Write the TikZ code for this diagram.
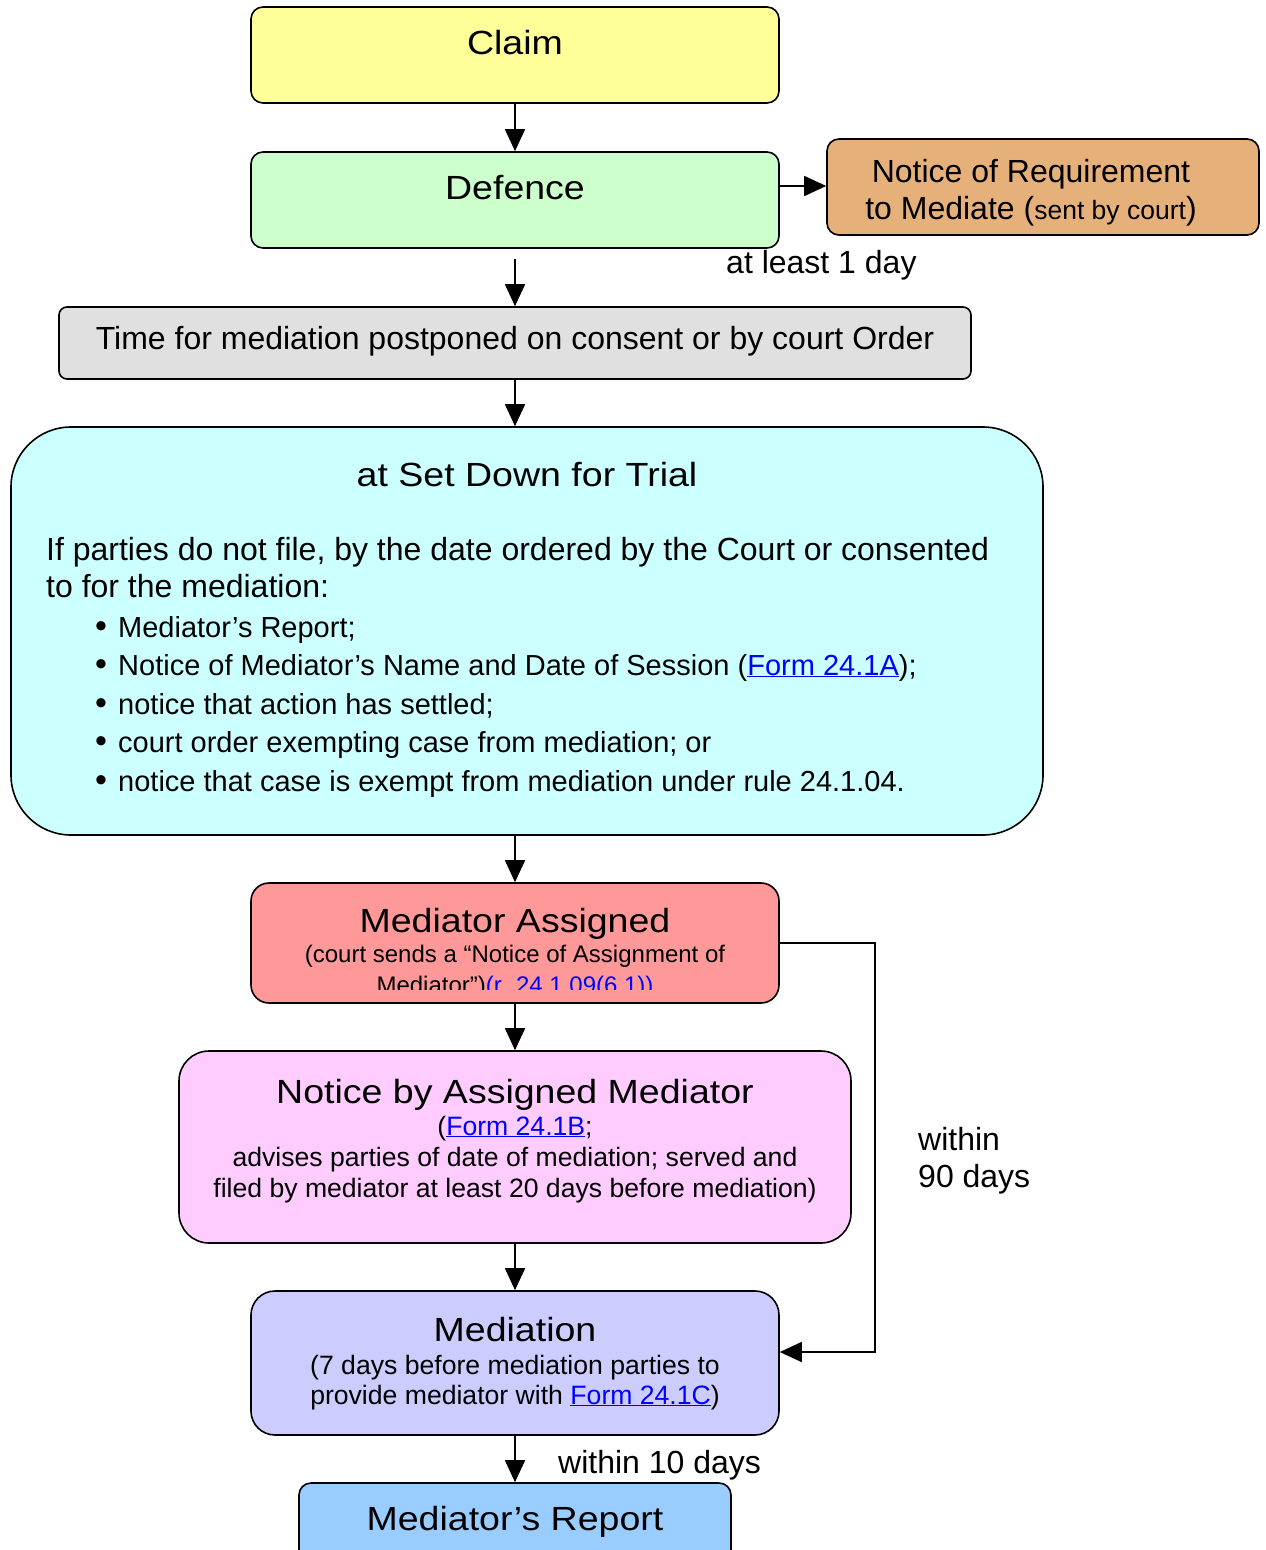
\documentclass[tikz,border=0pt]{standalone}
\usepackage{fontspec}
\setmainfont{Liberation Sans}
\newfontfamily\widefont[FakeStretch=1.12]{Liberation Sans}
\usetikzlibrary{arrows.meta}
\newcommand{\fsz}[1]{\fontsize{#1}{#1}\selectfont}
\definecolor{linkblue}{HTML}{0000FF}
\definecolor{cClaim}{HTML}{FFFF99}
\definecolor{cDef}{HTML}{CCFFCC}
\definecolor{cReq}{HTML}{E6B07B}
\definecolor{cTime}{HTML}{E0E0E0}
\definecolor{cSet}{HTML}{CCFFFF}
\definecolor{cAss}{HTML}{FF9999}
\definecolor{cNot}{HTML}{FFCCFF}
\definecolor{cMed}{HTML}{CCCCFF}
\definecolor{cRep}{HTML}{99CCFF}
\newcommand{\lnk}[1]{\textcolor{linkblue}{\underline{#1}}}
\begin{document}
\begin{tikzpicture}[x=1pt,y=-1pt,
  box/.style={draw=black, line width=1.6pt, inner sep=0pt, rounded corners=12pt},
  arr/.style={line width=1.6pt, -{Triangle[length=22pt,width=20pt]}},
  big/.style={font=\widefont\fsz{33.5}, anchor=base, inner sep=0pt},
  mid/.style={font=\fsz{32}, anchor=base, inner sep=0pt},
  body/.style={font=\fsz{32}, anchor=base, inner sep=0pt},
  bul/.style={font=\fsz{29}, anchor=base, inner sep=0pt},
  small/.style={font=\fsz{24}, anchor=base, inner sep=0pt},
  sub/.style={font=\fsz{26.6}, anchor=base, inner sep=0pt}]
\useasboundingbox (0,0) rectangle (1266,1550);
\fill[white] (0,0) rectangle (1266,1550);

% boxes
\node[box, fill=cClaim, minimum width=528pt, minimum height=96pt] (claim) at (515,55) {};
\node[box, fill=cDef, minimum width=528pt, minimum height=96pt] (defence) at (515,200) {};
\node[box, fill=cReq, minimum width=432pt, minimum height=96pt] (req) at (1043,187) {};
\node[box, fill=cTime, minimum width=912pt, minimum height=72pt, rounded corners=8pt] (time) at (515,343) {};
\node[box, fill=cSet, minimum width=1032pt, minimum height=408pt, rounded corners=60pt] (setdown) at (527,631) {};
\node[box, fill=cAss, minimum width=528pt, minimum height=120pt, rounded corners=18pt] (assigned) at (515,943) {};
\node[box, fill=cNot, minimum width=672pt, minimum height=192pt, rounded corners=30pt] (notice) at (515,1147) {};
\node[box, fill=cMed, minimum width=528pt, minimum height=144pt, rounded corners=24pt] (mediation) at (515,1363) {};
\node[box, fill=cRep, minimum width=432pt, minimum height=100pt, rounded corners=12pt] (report) at (515,1533) {};

% texts
\node[big] (tclaim) at (515,54) {Claim};
\node[big] (tdef) at (515,199) {Defence};
\node[mid] (treq1) at (1031,182) {Notice of Requirement};
\node[mid] (treq2) at (1031,219) {to Mediate ({\fsz{26.5}sent by court})};
\node[mid, anchor=base west] (tleast) at (726,273) {at least 1 day};
\node[mid] (ttime) at (515,349) {Time for mediation postponed on consent or by court Order};
\node[big] (tset) at (527,486) {at Set Down for Trial};
\node[body, anchor=base west] (p1) at (46,560) {If parties do not file, by the date ordered by the Court or consented};
\node[body, anchor=base west] (p2) at (46,597) {to for the mediation:};
\foreach \yy/\nm in {637/b1,675/b2,714/b3,752/b4,791/b5}
  \node[bul, font=\fsz{34}] (\nm) at (101,\yy) {\textbullet};
\node[bul, anchor=base west] (l1) at (118,637) {Mediator’s Report;};
\node[bul, anchor=base west] (l2) at (118,675) {Notice of Mediator’s Name and Date of Session (\lnk{Form 24.1A});};
\node[bul, anchor=base west] (l3) at (118,714) {notice that action has settled;};
\node[bul, anchor=base west] (l4) at (118,752) {court order exempting case from mediation; or};
\node[bul, anchor=base west] (l5) at (118,791) {notice that case is exempt from mediation under rule 24.1.04.};
\node[big] (tass) at (515,932) {Mediator Assigned};
\node[small] (tass2) at (515,962) {(court sends a “Notice of Assignment of};
\begin{scope}
\clip (252,970) rectangle (778,989);
\node[small] (tass3) at (515,993) {Mediator”)\textcolor{linkblue}{(r. 24.1.09(6.1))}};
\end{scope}
\node[big] (tnot) at (515,1103) {Notice by Assigned Mediator};
\node[sub] (tnot2) at (515,1135) {(\lnk{Form 24.1B};};
\node[sub] (tnot3) at (515,1166) {advises parties of date of mediation; served and};
\node[sub] (tnot4) at (515,1197) {filed by mediator at least 20 days before mediation)};
\node[big] (tmed) at (515,1341) {Mediation};
\node[sub] (tmed2) at (515,1374) {(7 days before mediation parties to};
\node[sub] (tmed3) at (515,1404) {provide mediator with \lnk{Form 24.1C})};
\node[mid, anchor=base west] (t10) at (558,1473) {within 10 days};
\node[big] (trep) at (515,1530) {Mediator’s Report};
\node[mid, anchor=base west] (t90a) at (918,1150) {within};
\node[mid, anchor=base west] (t90b) at (918,1187) {90 days};

% connectors
\coordinate (dstart) at (515,259);
\coordinate (dn) at (779,186);
\coordinate (c1) at (875,943);
\coordinate (c2) at (875,1352);
\draw[arr] (claim.south) -- (defence.north);
\draw[arr] (dn) -- (dn -| req.west);
\draw[arr] (dstart) -- (time.north);
\draw[arr] (time.south) -- (setdown.north -| time.south);
\draw[arr] (setdown.south -| assigned.north) -- (assigned.north);
\draw[arr] (assigned.south) -- (notice.north);
\draw[arr] (notice.south) -- (mediation.north);
\draw[arr] (mediation.south) -- (report.north);
\draw[arr] (assigned.east) -- (c1) -- (c2) -- (c2 -| mediation.east);
\end{tikzpicture}
\end{document}
